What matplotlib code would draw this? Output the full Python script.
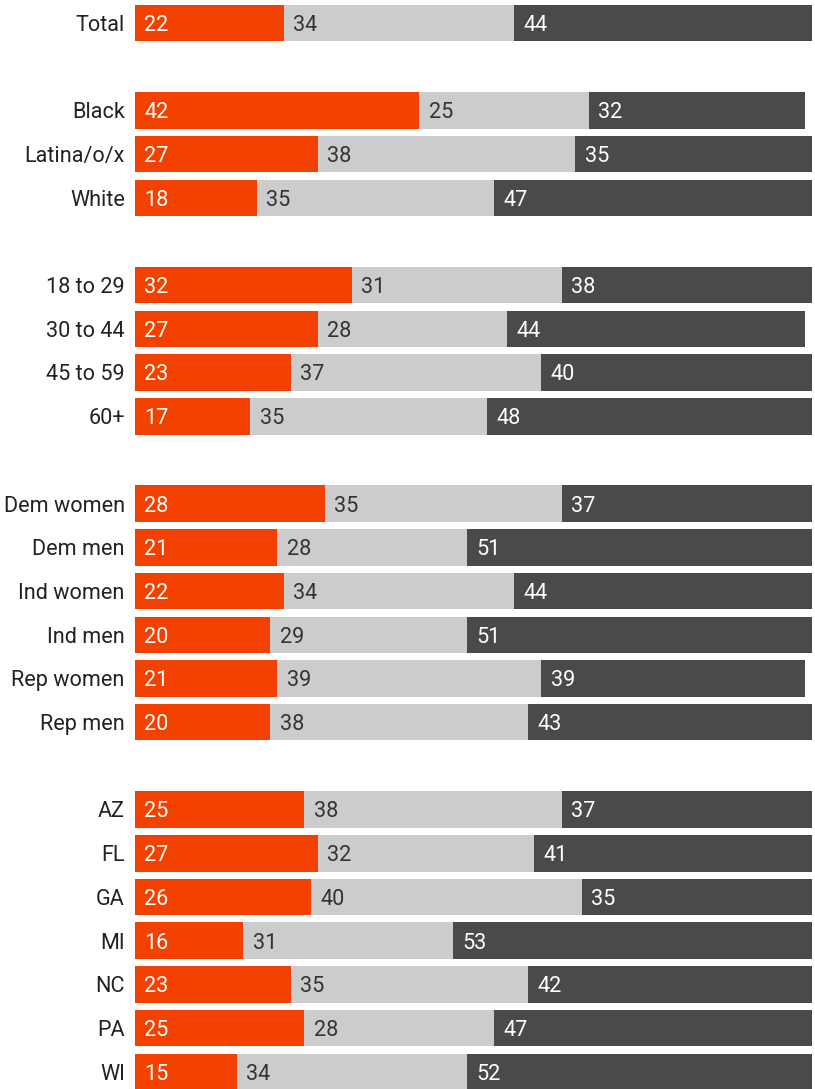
import matplotlib
matplotlib.use("Agg")
import matplotlib.pyplot as plt

categories = ["Total", None,
              "Black", "Latina/o/x", "White", None,
              "18 to 29", "30 to 44", "45 to 59", "60+", None,
              "Dem women", "Dem men", "Ind women", "Ind men", "Rep women", "Rep men", None,
              "AZ", "FL", "GA", "MI", "NC", "PA", "WI"]
seg1 = [22, None, 42, 27, 18, None, 32, 27, 23, 17, None,
        28, 21, 22, 20, 21, 20, None, 25, 27, 26, 16, 23, 25, 15]
seg2 = [34, None, 25, 38, 35, None, 31, 28, 37, 35, None,
        35, 28, 34, 29, 39, 38, None, 38, 32, 40, 31, 35, 28, 34]
seg3 = [44, None, 32, 35, 47, None, 38, 44, 40, 48, None,
        37, 51, 44, 51, 39, 43, None, 37, 41, 35, 53, 42, 47, 52]

colors = ["#F24100", "#CCCCCC", "#4A4A4A"]
text_colors = ["white", "#333333", "white"]

plt.rcParams['font.family'] = ['Roboto', 'DejaVu Sans']
fig = plt.figure(figsize=(8.15, 10.89), dpi=100)
W, H = 815, 1089
ax = fig.add_axes([135 / W, 0, 677 / W, 1])
ax.set_xlim(0, 100)
y0, dy = 23.0, 43.7
ax.set_ylim((H - y0) / dy, -y0 / dy)
ax.axis("off")

fs = 15.6
boff = 0.18
for i, cat in enumerate(categories):
    if cat is None:
        continue
    left = 0
    for j, vals in enumerate([seg1, seg2, seg3]):
        v = vals[i]
        ax.barh(i, v, left=left, height=0.835, color=colors[j], linewidth=0)
        ax.text(left + 1.4, i + boff, str(v), va="baseline", ha="left",
                fontsize=fs, color=text_colors[j])
        left += v
    ax.text(-1.5, i + boff, cat, va="baseline", ha="right", fontsize=fs, color="#222222",
            clip_on=False)

fig.savefig("out.png", dpi=100)
